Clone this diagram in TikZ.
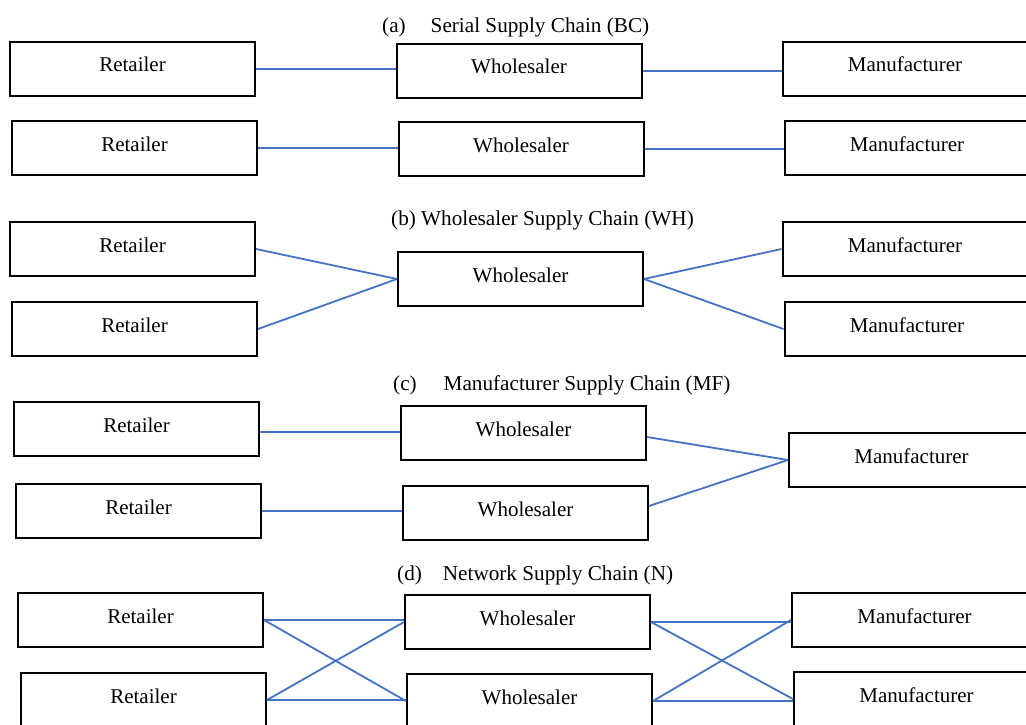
\documentclass[tikz,border=0pt]{standalone}
\usepackage{fontspec}
\setmainfont{Liberation Serif}
\definecolor{linkblue}{HTML}{4472C4}
\begin{document}
\begin{tikzpicture}[x=1pt,y=-1pt,
  box/.style={draw=black,line width=2pt,minimum width=245pt,minimum height=54pt,
    inner sep=0pt,font=\fontsize{21}{24}\selectfont,text height=6pt,text depth=0pt},
  link/.style={draw=linkblue,line width=1.8pt},
  ttl/.style={anchor=base west,inner sep=0pt,font=\fontsize{21.2}{24}\selectfont}]
\useasboundingbox (0,0) rectangle (1026,725);
\clip (0,0) rectangle (1026,725);
% titles
\node[ttl] (ta) at (382,33) {(a)\hspace{25pt}Serial Supply Chain (BC)};
\node[ttl] (tb) at (391,225) {(b) Wholesaler Supply Chain (WH)};
\node[ttl] (tc) at (393,390) {(c)\hspace{27pt}Manufacturer Supply Chain (MF)};
\node[ttl] (td) at (397,580) {(d)\hspace{21pt}Network Supply Chain (N)};
% (a)
\node[box] (ra1) at (132.5,69) {Retailer};
\node[box] (wa1) at (519,71) {Wholesaler};
\node[box] (ma1) at (905,69) {Manufacturer};
\node[box] (ra2) at (134.5,148) {Retailer};
\node[box] (wa2) at (521,149) {Wholesaler};
\node[box] (ma2) at (907,148) {Manufacturer};
\draw[link] (ra1.east) -- (ra1.east -| wa1.west);
\draw[link] (wa1.east) -- (wa1.east -| ma1.west);
\draw[link] (ra2.east) -- (ra2.east -| wa2.west);
\draw[link] (wa2.east) -- (wa2.east -| ma2.west);
% (b)
\node[box] (rb1) at (132.5,249) {Retailer};
\node[box] (rb2) at (134.5,329) {Retailer};
\node[box] (wb) at (520.5,279) {Wholesaler};
\node[box] (mb1) at (905,249) {Manufacturer};
\node[box] (mb2) at (907,329) {Manufacturer};
\draw[link] (rb1.east) -- (wb.west);
\draw[link] (rb2.east) -- (wb.west);
\draw[link] (wb.east) -- (mb1.west);
\draw[link] (wb.east) -- (mb2.west);
% (c)
\node[box] (rc1) at (136.5,429) {Retailer};
\node[box] (rc2) at (138.5,511) {Retailer};
\node[box] (wc1) at (523.5,433) {Wholesaler};
\node[box] (wc2) at (525.5,513) {Wholesaler};
\node[box] (mc) at (911.5,460) {Manufacturer};
\draw[link] ([yshift=-3pt]rc1.east) -- ([yshift=-3pt]rc1.east -| wc1.west);
\draw[link] (rc2.east) -- (rc2.east -| wc2.west);
\draw[link] ([yshift=-4pt]wc1.east) -- (mc.west);
\draw[link] ([yshift=7pt]wc2.east) -- (mc.west);
% (d)
\node[box] (rd1) at (140.5,620) {Retailer};
\node[box] (rd2) at (143.5,700) {Retailer};
\node[box] (wd1) at (527.5,622) {Wholesaler};
\node[box] (wd2) at (529.5,701) {Wholesaler};
\node[box] (md1) at (914.5,620) {Manufacturer};
\node[box] (md2) at (916.5,699) {Manufacturer};
\draw[link] (rd1.east) -- (rd1.east -| wd1.west);
\draw[link] (rd1.east) -- (wd2.west);
\draw[link] (rd2.east) -- (wd1.west);
\draw[link] (rd2.east) -- (rd2.east -| wd2.west);
\draw[link] (wd1.east) -- (wd1.east -| md1.west);
\draw[link] (wd1.east) -- (md2.west);
\draw[link] (wd2.east) -- (md1.west);
\draw[link] (wd2.east) -- (wd2.east -| md2.west);
\end{tikzpicture}
\end{document}
